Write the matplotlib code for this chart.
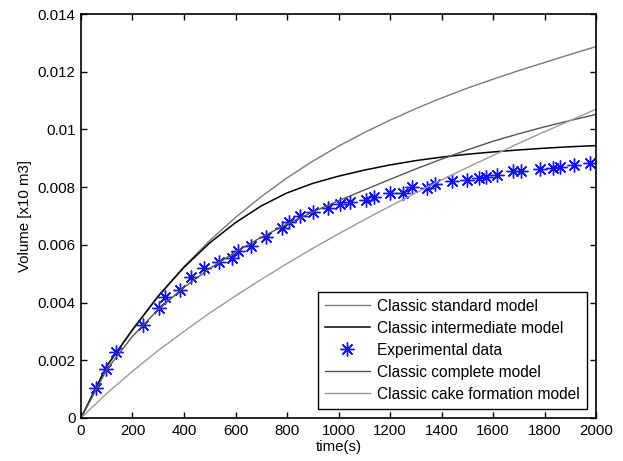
import matplotlib
matplotlib.use("Agg")
import matplotlib.pyplot as plt
from matplotlib.ticker import FixedLocator, FixedFormatter

plt.rcParams['font.family'] = ['Liberation Sans', 'DejaVu Sans']

# model time grid (s)
t_model = [0, 100, 200, 300, 400, 500, 600, 700, 800, 900, 1000,
           1100, 1200, 1300, 1400, 1500, 1600, 1700, 1800, 1900, 2000]

standard = [0, 0.00180, 0.00308, 0.00423, 0.00525, 0.00615, 0.00695, 0.00767,
            0.00832, 0.00890, 0.00942, 0.00989, 0.01032, 0.01072, 0.01109,
            0.01143, 0.01174, 0.01204, 0.01232, 0.01260, 0.01287]

intermediate = [0, 0.00180, 0.00305, 0.00422, 0.00522, 0.00607, 0.00677, 0.00735,
                0.00780, 0.00813, 0.00838, 0.00859, 0.00877, 0.00892, 0.00904,
                0.00914, 0.00922, 0.00929, 0.00935, 0.00940, 0.00944]

complete = [0, 0.00168, 0.00283, 0.00376, 0.00453, 0.00518, 0.00575, 0.00626,
            0.00672, 0.00714, 0.00753, 0.00790, 0.00827, 0.00863, 0.00897,
            0.00929, 0.00959, 0.00985, 0.01009, 0.01031, 0.01052]

cake = [0, 0.00085, 0.00162, 0.00234, 0.00300, 0.00364, 0.00423, 0.00480,
        0.00535, 0.00588, 0.00638, 0.00687, 0.00734, 0.00780, 0.00825,
        0.00868, 0.00910, 0.00952, 0.00992, 0.01031, 0.01070]

t_exp = [58, 97, 136, 240, 303, 326, 385, 427, 479, 537, 586, 609, 659, 718,
         781, 809, 851, 902, 958, 1004, 1046, 1105, 1138, 1199, 1252, 1286,
         1342, 1375, 1440, 1498, 1545, 1571, 1617, 1677, 1708, 1781, 1831,
         1860, 1915, 1977]
v_exp = [0.00105, 0.00171, 0.00228, 0.00321, 0.00382, 0.00420, 0.00445,
         0.00487, 0.00520, 0.00539, 0.00556, 0.00577, 0.00597, 0.00626,
         0.00660, 0.00680, 0.00699, 0.00713, 0.00729, 0.00742, 0.00749,
         0.00757, 0.00767, 0.00781, 0.00780, 0.00801, 0.00798, 0.00810,
         0.00821, 0.00825, 0.00833, 0.00836, 0.00842, 0.00855, 0.00857,
         0.00862, 0.00866, 0.00871, 0.00876, 0.00883]

x_ticks = [0, 200, 400, 600, 800, 1000, 1200, 1400, 1600, 1800, 2000]
x_ticklabels = ['0', '200', '400', '600', '800', '1000', '1200', '1400', '1600', '1800', '2000']
y_ticks = [0, 0.002, 0.004, 0.006, 0.008, 0.01, 0.012, 0.014]
y_ticklabels = ['0', '0.002', '0.004', '0.006', '0.008', '0.01', '0.012', '0.014']

labels = ['Classic standard model', 'Classic intermediate model', 'Experimental data',
          'Classic complete model', 'Classic cake formation model']

fig = plt.figure(figsize=(6.23, 4.61), dpi=100)
ax = fig.add_axes([0.130, 0.0933, 0.8267, 0.8763])

ax.plot(t_model, standard, color='#7a7a7a', lw=1.0, label=labels[0])
ax.plot(t_model, intermediate, color='black', lw=1.1, label=labels[1])
ax.plot(t_exp, v_exp, linestyle='none', marker=(8, 2, 0), markersize=10,
        markeredgewidth=1.0, color='#1010ff', label=labels[2])
ax.plot(t_model, complete, color='#555555', lw=1.0, label=labels[3])
ax.plot(t_model, cake, color='#9a9a9a', lw=1.0, label=labels[4])

ax.set_xlim(0, 2000)
ax.set_ylim(0, 0.014)
ax.xaxis.set_major_locator(FixedLocator(x_ticks))
ax.xaxis.set_major_formatter(FixedFormatter(x_ticklabels))
ax.yaxis.set_major_locator(FixedLocator(y_ticks))
ax.yaxis.set_major_formatter(FixedFormatter(y_ticklabels))
ax.tick_params(direction='in', top=True, right=True, length=4, width=1,
               labelsize=10.8, pad=4)
for s in ax.spines.values():
    s.set_linewidth(1.2)

ax.set_xlabel('time(s)', fontsize=10.8, labelpad=2)
ax.set_ylabel('Volume [x10 m3]', fontsize=10.8, labelpad=4)

leg = ax.legend(loc='lower right', fontsize=11.2, frameon=True, fancybox=False,
                edgecolor='black', framealpha=1, handlelength=2.9,
                handletextpad=0.45, labelspacing=0.45, borderpad=0.45,
                borderaxespad=0.6, numpoints=1)
leg.get_frame().set_linewidth(1.0)

fig.savefig('out.png', dpi=100)
